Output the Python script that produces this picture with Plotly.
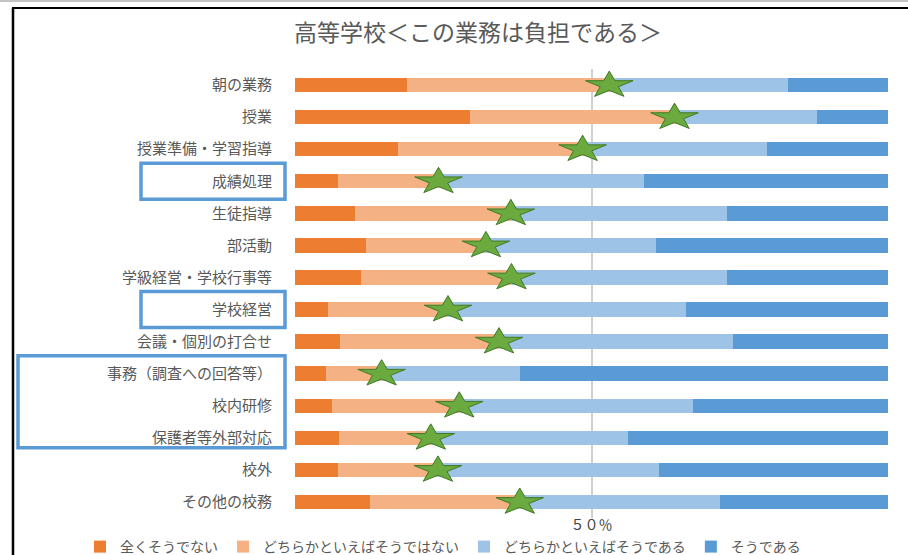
import math
import plotly.graph_objects as go

categories = ["朝の業務", "授業", "授業準備・学習指導", "成績処理", "生徒指導", "部活動",
              "学級経営・学校行事等", "学校経営", "会議・個別の打合せ", "事務（調査への回答等）",
              "校内研修", "保護者等外部対応", "校外", "その他の校務"]
series_names = ["全くそうでない", "どちらかといえばそうではない", "どちらかといえばそうである", "そうである"]
not_at_all = [18.9, 29.5, 17.4, 7.2, 10.2, 12.0, 11.2, 5.6, 7.6, 5.2, 6.2, 7.4, 7.2, 12.6]
rather_not = [34.1, 34.5, 31.1, 17.0, 26.2, 20.2, 25.3, 20.2, 26.8, 9.4, 21.5, 15.5, 16.9, 25.3]
rather_yes = [30.2, 24.0, 31.1, 34.6, 36.5, 28.6, 36.4, 40.1, 39.5, 23.3, 39.4, 33.2, 37.2, 33.8]
yes = [16.8, 12.0, 20.4, 41.2, 27.1, 39.2, 27.1, 34.1, 26.1, 62.1, 32.9, 43.9, 38.7, 28.3]
tick_vals = [0, 50, 100]
tick_text = ["", "５０％", ""]
highlighted = [["成績処理"], ["学校経営"], ["事務（調査への回答等）", "校内研修", "保護者等外部対応"]]

colors = ["#ED7D31", "#F4B183", "#9DC3E6", "#5B9BD5"]
FONT = "Noto Sans CJK JP"
GRAY = "#595959"

# layout geometry (pixels)
W, H = 908, 555
L, R, T, B = 295, 20, 69, 37
pw, ph = W - L - R, H - T - B

def px(x):
    return (x - L) / pw

def py(y):
    return (H - B - y) / ph

idx = list(range(len(categories)))
fig = go.Figure()
for name, vals, c in zip(series_names, [not_at_all, rather_not, rather_yes, yes], colors):
    fig.add_trace(go.Bar(y=idx, x=vals, name=name, orientation="h", marker_color=c,
                         marker_line_width=0, width=0.45))

# stars at the boundary between "not" and "yes" groups
row_px = ph / len(categories)
Rx = 25 / pw * 100
Ry = 14 / row_px
sx, sy = [], []
for i, (a, b) in enumerate(zip(not_at_all, rather_not)):
    cx = a + b
    for k in range(11):
        ang = math.radians(90 + k * 36)
        rr = 1.0 if k % 2 == 0 else 0.382
        sx.append(cx + Rx * rr * math.cos(ang))
        sy.append(i - Ry * rr * math.sin(ang))
    sx.append(None)
    sy.append(None)
fig.add_trace(go.Scatter(x=sx, y=sy, mode="lines", fill="toself", fillcolor="#6AAA3F",
                         line=dict(color="#3F7A23", width=1), showlegend=False,
                         hoverinfo="skip"))

shapes = []
# outer frame
shapes.append(dict(type="line", xref="paper", yref="paper", x0=px(0), x1=px(W), y0=py(1), y1=py(1),
                   line=dict(color="#888888", width=1)))
shapes.append(dict(type="line", xref="paper", yref="paper", x0=px(12), x1=px(W), y0=py(8), y1=py(8),
                   line=dict(color="black", width=2)))
shapes.append(dict(type="line", xref="paper", yref="paper", x0=px(13), x1=px(13), y0=py(8), y1=py(H + 5),
                   line=dict(color="black", width=2.5)))
# highlight boxes around labels
for grp in highlighted:
    first = categories.index(grp[0])
    last = categories.index(grp[-1])
    longest = max(len(g) for g in grp)
    left = 141 if longest <= 4 else 18
    y0 = T + (first + 0.5) * row_px - 18
    y1 = T + (last + 0.5) * row_px + (18 if first == last else 10)
    shapes.append(dict(type="rect", xref="paper", yref="paper", x0=px(left), x1=px(285),
                       y0=py(y0), y1=py(y1), line=dict(color="#5B9BD5", width=3.5),
                       fillcolor="rgba(0,0,0,0)"))

fig.update_layout(
    width=W, height=H, barmode="stack",
    margin=dict(l=L, r=R, t=T, b=B, autoexpand=False),
    paper_bgcolor="white", plot_bgcolor="white",
    font=dict(family=FONT, color=GRAY),
    title=dict(text="高等学校＜この業務は負担である＞", x=(208 + 748) / 2 / W, xanchor="center",
               y=1 - 33 / H, yanchor="middle", yref="container",
               font=dict(size=23, color=GRAY, family=FONT)),
    xaxis=dict(range=[0, 100], tickvals=tick_vals, ticktext=tick_text, showgrid=True,
               gridcolor="#D0D0D0", gridwidth=1.5, zeroline=False, showline=False,
               tickfont=dict(size=14, color="#404040"), ticks="", ticklabelstandoff=-3,
               fixedrange=True),
    yaxis=dict(range=[len(categories) - 0.5, -0.5], tickvals=idx, ticktext=categories,
               showgrid=False, zeroline=False, showline=False, ticks="",
               tickfont=dict(size=15, color=GRAY), ticklabelstandoff=22),
    legend=dict(orientation="h", x=px(80), xanchor="left",
                y=py(531), yanchor="top", bgcolor="rgba(0,0,0,0)",
                font=dict(size=14, color=GRAY), traceorder="normal",
                itemwidth=30, tracegroupgap=0),
    shapes=shapes,
    bargap=0.55,
)
fig.write_html("out.html")
